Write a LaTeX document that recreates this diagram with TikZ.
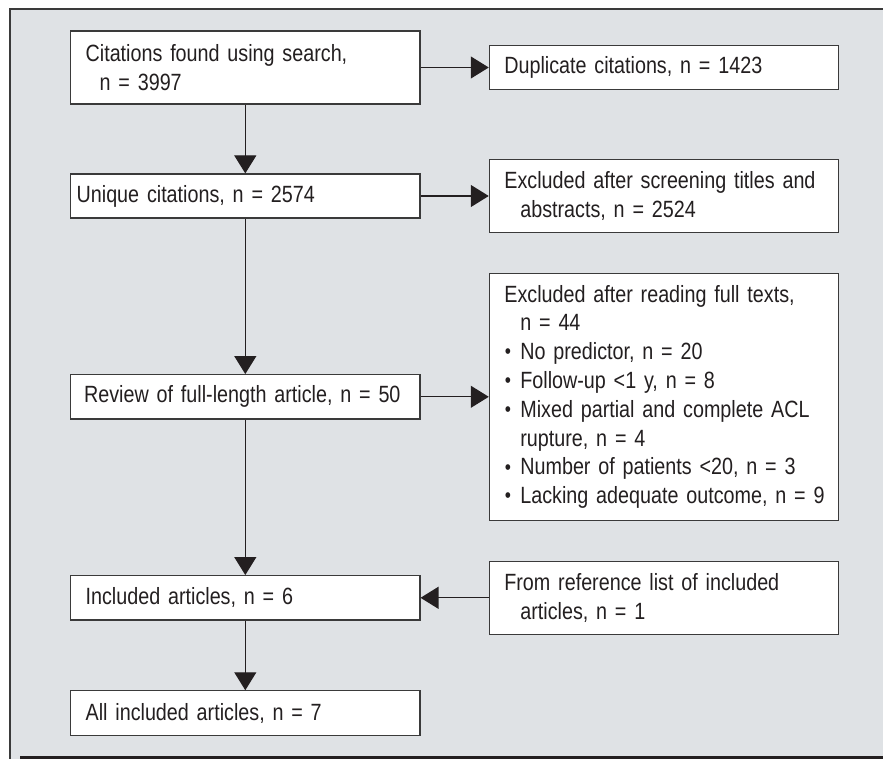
\documentclass[tikz,border=0pt]{standalone}
\usepackage{fontspec}
\setmainfont{Liberation Sans}[FakeStretch=0.84]
\usetikzlibrary{arrows.meta}
\definecolor{panel}{HTML}{DFE2E5}
\definecolor{edge}{HTML}{3A3A3A}
\definecolor{ink}{HTML}{231F20}
\newcommand{\bul}{\makebox[16pt][l]{\hspace{0.5pt}\raisebox{0.8pt}{\fontsize{21}{21}\selectfont •}}}
\begin{document}
\begin{tikzpicture}[x=1pt,y=-1pt,
  box/.style={draw=edge, line width=1.2pt, fill=white, minimum width=349.3pt,
    text width=319.3pt, inner xsep=15pt, inner ysep=0pt, align=left, text=ink,
    font=\fontsize{23.5}{28.8}\selectfont},
  conn/.style={draw=ink, line width=1.2pt, -{Triangle[width=22pt,length=18pt]}}]
\useasboundingbox (0,0) rectangle (883,759);
\fill[panel] (10,9) rectangle (883,759);
\draw[edge, line width=1.2pt] (10,759) -- (10,9) -- (883,9);
\fill[ink] (20,755.5) rectangle (883,759);

\node[box, minimum height=73pt] (b1) at (245.3,67.5)
  {\mbox{Citations found using search,}\\\hspace*{14pt}n = 3997};
\node[box, minimum height=44pt] (b2) at (245.3,196) {\mbox{\hspace*{-9pt}Unique citations, n = 2574}};
\node[box, minimum height=44.3pt] (b3) at (245.3,396.8) {\mbox{\hspace*{-1.5pt}Review of full-length article, n = 50}};
\node[box, minimum height=44.3pt] (b4) at (245.3,597.8) {\mbox{Included articles, n = 6}};
\node[box, minimum height=44.3pt] (b5) at (245.3,713) {\mbox{All included articles, n = 7}};

\node[box, minimum height=44.3pt] (r1) at (664,67.5) {\mbox{Duplicate citations, n = 1423}};
\node[box, minimum height=72.3pt] (r2) at (664,196)
  {\mbox{Excluded after screening titles and}\\\hspace*{16pt}abstracts, n = 2524};
\node[box, minimum height=246.7pt] (r3) at (664,396.8)
  {\mbox{Excluded after reading full texts,}\\
   \hspace*{16pt}n = 44\\
   \mbox{\bul No predictor, n = 20}\\
   \mbox{\bul Follow-up <1 y, n = 8}\\
   \mbox{\bul Mixed partial and complete ACL}\\
   \hspace*{16pt}rupture, n = 4\\
   \mbox{\bul Number of patients <20, n = 3}\\
   \mbox{\bul Lacking adequate outcome, n = 9}};
\node[box, minimum height=73.3pt] (r4) at (664,597.8)
  {\mbox{From reference list of included}\\\hspace*{16pt}articles, n = 1};

\draw[conn] (b1) -- (b2);
\draw[conn] (b2) -- (b3);
\draw[conn] (b3) -- (b4);
\draw[conn] (b4) -- (b5);
\draw[conn] (b1.east) -- (r1.west |- b1.east);
\draw[conn] (b2.east) -- (r2.west |- b2.east);
\draw[conn] (b3.east) -- (r3.west |- b3.east);
\draw[conn] (r4.west) -- (b4.east |- r4.west);
\end{tikzpicture}
\end{document}
